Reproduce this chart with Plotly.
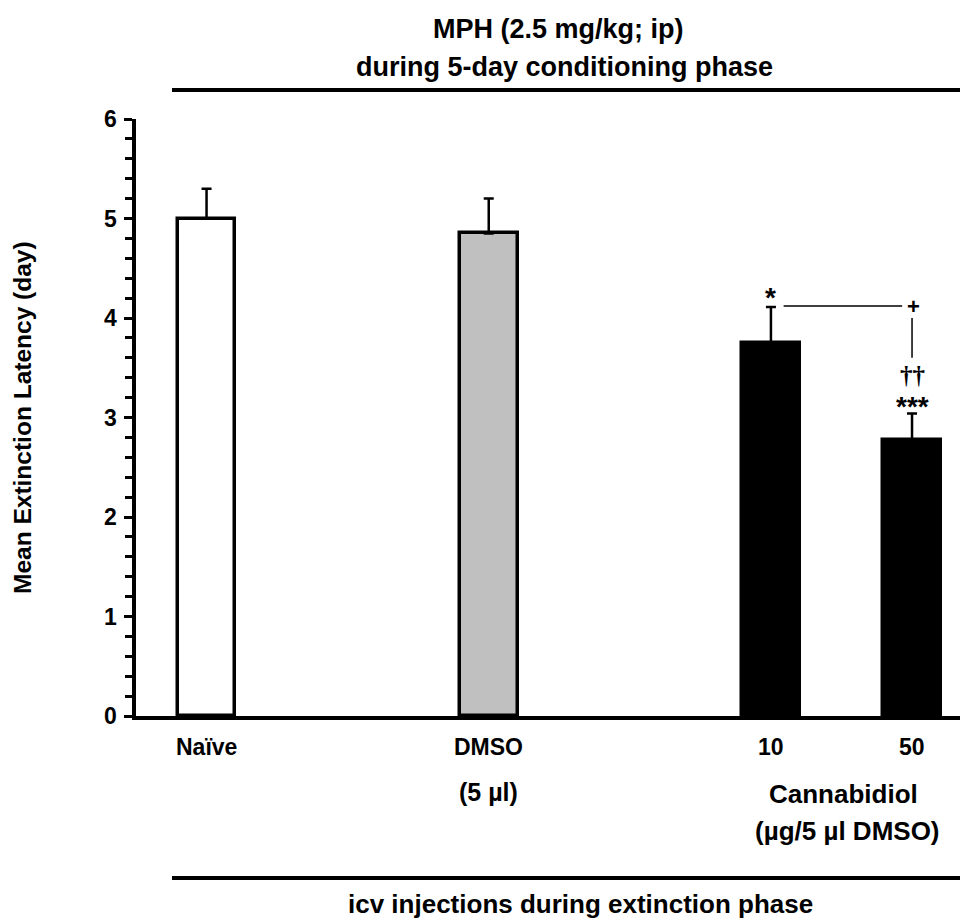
import plotly.graph_objects as go

# ---- data ----
groups = ["Naïve", "DMSO", "10", "50"]
means = [5.0, 4.85, 3.75, 2.77]
sem = [0.30, 0.35, 0.36, 0.27]
fills = ["#ffffff", "#c0c0c0", "#000000", "#000000"]
y_ticks = [0, 1, 2, 3, 4, 5, 6]
y_tick_labels = ["0", "1", "2", "3", "4", "5", "6"]

# layout positions (category slots on a numeric axis)
x_pos = [0, 2, 4, 5]

FONT = "Liberation Sans, Arial, Helvetica, sans-serif"
W, H = 960, 920
ML, MR, MT, MB = 136, 0, 119, 204
PW, PH = W - ML - MR, H - MT - MB


def px2py(p):
    return (H - MB - p) / PH


def px2px(p):
    return (p - ML) / PW


def bold(size, family=FONT):
    return dict(size=size, family=family, color="black", weight="bold")


fig = go.Figure()
fig.add_trace(go.Bar(
    x=x_pos, y=means, width=0.41,
    marker=dict(color=fills, line=dict(color="black", width=3.5)),
    error_y=dict(type="data", symmetric=False, array=sem,
                 arrayminus=[0] * len(sem), color="black",
                 thickness=2.5, width=5),
    showlegend=False, hoverinfo="skip",
))

ann = []
# y tick labels
for v, t in zip(y_ticks, y_tick_labels):
    ann.append(dict(x=px2px(110), y=v, xref="paper", yref="y", text=t,
                    showarrow=False, xanchor="center", yanchor="middle", font=bold(23)))
# category labels
for xp, g in zip(x_pos, groups):
    ann.append(dict(x=xp, y=px2py(747), xref="x", yref="paper", text=g,
                    showarrow=False, xanchor="center", yanchor="middle", font=bold(23)))
ann.append(dict(x=2, y=px2py(792), xref="x", yref="paper", text="(5 µl)",
                showarrow=False, xanchor="center", yanchor="middle", font=bold(25)))
ann.append(dict(x=px2px(843), y=px2py(794), xref="paper", yref="paper", text="Cannabidiol",
                showarrow=False, xanchor="center", yanchor="middle", font=bold(26)))
ann.append(dict(x=px2px(847), y=px2py(831), xref="paper", yref="paper", text="(µg/5 µl DMSO)",
                showarrow=False, xanchor="center", yanchor="middle", font=bold(26)))
# titles
ann.append(dict(x=px2px(558), y=px2py(29), xref="paper", yref="paper",
                text="MPH (2.5 mg/kg; ip)", showarrow=False, xanchor="center",
                yanchor="middle", font=bold(27)))
ann.append(dict(x=px2px(564), y=px2py(67), xref="paper", yref="paper",
                text="during 5-day conditioning phase", showarrow=False, xanchor="center",
                yanchor="middle", font=bold(27)))
ann.append(dict(x=px2px(580), y=px2py(904), xref="paper", yref="paper",
                text="icv injections during extinction phase", showarrow=False,
                xanchor="center", yanchor="middle", font=bold(26)))
# y-axis title
ann.append(dict(x=px2px(22), y=px2py(418), xref="paper", yref="paper",
                text="Mean Extinction Latency (day)", textangle=-90, showarrow=False,
                xanchor="center", yanchor="middle", font=bold(24.5)))
# significance marks
ann.append(dict(x=4, y=4.21, xref="x", yref="y", text="*", showarrow=False,
                xanchor="center", yanchor="middle", font=bold(28)))
ann.append(dict(x=5.01, y=4.12, xref="x", yref="y", text="+", showarrow=False,
                xanchor="center", yanchor="middle", font=bold(22)))
ann.append(dict(x=5.0, y=px2py(390), xref="x", yref="paper", text="††", showarrow=False,
                xanchor="center", yanchor="bottom", borderpad=0,
                font=bold(25, "Liberation Serif, Times New Roman, serif")))
ann.append(dict(x=5.0, y=px2py(390), xref="x", yref="paper", text="***", showarrow=False,
                xanchor="center", yanchor="top", borderpad=0, font=bold(28)))

shapes = [
    dict(type="line", xref="paper", yref="paper", x0=px2px(172), x1=1.0,
         y0=px2py(90), y1=px2py(90), line=dict(color="black", width=4)),
    dict(type="line", xref="paper", yref="paper", x0=px2px(172), x1=1.0,
         y0=px2py(878), y1=px2py(878), line=dict(color="black", width=4)),
    dict(type="line", xref="x", yref="y", x0=4.09, x1=4.93, y0=4.12, y1=4.12,
         line=dict(color="black", width=1.5)),
    dict(type="line", xref="x", yref="y", x0=5.0, x1=5.0, y0=4.0, y1=3.6,
         line=dict(color="black", width=1.5)),
]

fig.update_layout(
    width=W, height=H,
    margin=dict(l=ML, r=MR, t=MT, b=MB, pad=0),
    paper_bgcolor="white", plot_bgcolor="white",
    annotations=ann, shapes=shapes,
    xaxis=dict(range=[-0.5, 5.34], showgrid=False, zeroline=False,
               showline=True, linecolor="black", linewidth=3.5,
               showticklabels=False, ticks=""),
    yaxis=dict(range=[0, 6], showgrid=False, zeroline=False,
               showline=True, linecolor="black", linewidth=4,
               tickvals=y_ticks, ticks="outside", ticklen=8, tickwidth=3,
               tickcolor="black", showticklabels=False,
               minor=dict(dtick=0.2, ticks="outside", ticklen=7, tickwidth=3,
                          tickcolor="black")),
    bargap=0,
)

fig.write_html("out.html")
